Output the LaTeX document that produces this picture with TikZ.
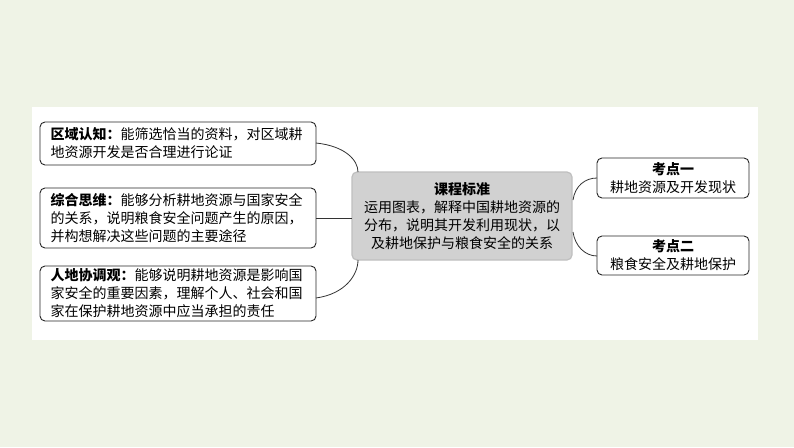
\documentclass[tikz,border=0pt]{standalone}
\usepackage{fontspec}
\setmainfont{Noto Sans CJK SC}
\begin{document}
\begin{tikzpicture}[x=1pt,y=-1pt,
  box/.style={draw=black!85,rounded corners=5pt,line width=0.9pt,fill=white,inner sep=0pt},
  lbl/.style={font=\fontsize{14}{18}\selectfont,align=left,anchor=west},
  rlbl/.style={font=\fontsize{14}{18}\selectfont,align=center},
  con/.style={draw=black!80,line width=0.8pt}]
\useasboundingbox (0,0) rectangle (794,447);
\fill[fill={rgb,255:red,239;green,243;blue,230}] (0,0) rectangle (794,447);
\fill[white] (32,107) rectangle (758,340);
% left boxes
\draw[box] (40,122) rectangle (316,165);
\node[lbl] (t1) at (47,143.5) {\textbf{区域认知：}能筛选恰当的资料，对区域耕\\地资源开发是否合理进行论证};
\draw[box] (40,188) rectangle (316,248);
\node[lbl] (t2) at (47,218) {\textbf{综合思维：}能够分析耕地资源与国家安全\\的关系，说明粮食安全问题产生的原因，\\并构想解决这些问题的主要途径};
\draw[box] (40,266) rectangle (316,321);
\node[lbl] (t3) at (47,293.5) {\textbf{人地协调观：}能够说明耕地资源是影响国\\家安全的重要因素，理解个人、社会和国\\家在保护耕地资源中应当承担的责任};
% center
\draw[draw=black!25,fill=black!18,rounded corners=5pt,line width=1.2pt] (352,172) rectangle (572,260);
\node[rlbl] (c) at (462,216) {\textbf{课程标准}\\运用图表，解释中国耕地资源的\\分布，说明其开发利用现状，以\\及耕地保护与粮食安全的关系};
% right
\draw[box] (597,158) rectangle (749,198);
\node[rlbl] (r1) at (673,178) {\textbf{考点一}\\耕地资源及开发现状};
\draw[box] (597,236) rectangle (749,275);
\node[rlbl] (r2) at (673,255.5) {\textbf{考点二}\\粮食安全及耕地保护};
% connectors
\coordinate (a1) at (316,143); \coordinate (c1) at (358,172);
\coordinate (a2) at (316,218); \coordinate (c2) at (352,218);
\coordinate (a3) at (316,298); \coordinate (c3) at (358,260);
\coordinate (d1) at (573,200); \coordinate (e1) at (597,178);
\coordinate (d2) at (573,232); \coordinate (e2) at (597,256);
\draw[con] (a1) .. controls (345,146) and (358,160) .. (c1);
\draw[con] (a2) -- (c2);
\draw[con] (a3) .. controls (345,294) and (358,275) .. (c3);
\draw[con] (d1) .. controls (575,186) and (585,178) .. (e1);
\draw[con] (d2) .. controls (575,246) and (585,256) .. (e2);
\end{tikzpicture}
\end{document}
